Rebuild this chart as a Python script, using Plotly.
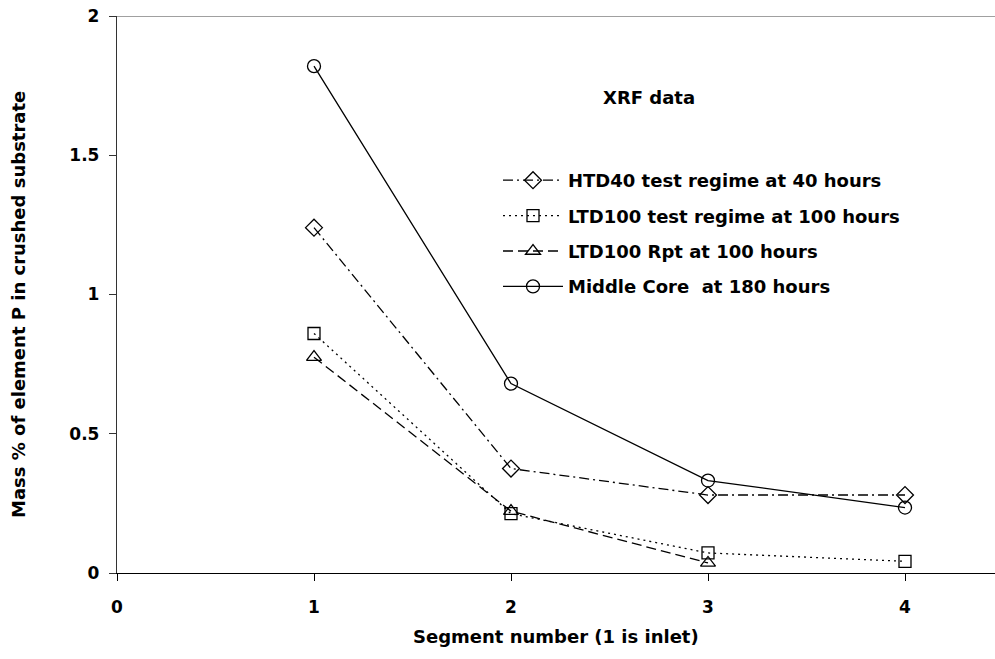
import plotly.graph_objects as go

# Segment positions along the core (1 = inlet)
segments = [1, 2, 3, 4]
segments_rpt = [1, 2, 3]

# Mass % of element P in crushed substrate (XRF)
htd40_40h = [1.24, 0.375, 0.28, 0.28]
ltd100_100h = [0.86, 0.213, 0.072, 0.042]
ltd100_rpt_100h = [0.775, 0.222, 0.036]
middle_core_180h = [1.82, 0.68, 0.332, 0.235]

series_names = [
    "HTD40 test regime at 40 hours",
    "LTD100 test regime at 100 hours",
    "LTD100 Rpt at 100 hours",
    "Middle Core  at 180 hours",
]

FONT = "DejaVu Sans, Liberation Sans, Arial, sans-serif"
TXT = 18

fig = go.Figure()

styles = [
    (segments, htd40_40h, "diamond-open", "10px,4px,2px,4px", 13),
    (segments, ltd100_100h, "square-open", "2px,4px", 12),
    (segments_rpt, ltd100_rpt_100h, "triangle-up-open", "10px,5px", 13),
    (segments, middle_core_180h, "circle-open", "solid", 13),
]

for i, (xs, ys, sym, dash, size) in enumerate(styles):
    fig.add_trace(go.Scatter(
        x=xs, y=ys, name=series_names[i], mode="lines+markers",
        legendgroup=f"g{i}",
        line=dict(color="black", width=1.3, dash=dash),
        marker=dict(symbol=sym, size=size, color="black",
                    line=dict(color="black", width=1.3)),
    ))

fig.add_shape(type="line", xref="paper", yref="y", x0=0, x1=1, y0=2, y1=2,
              line=dict(color="#808080", width=1.3))

fig.add_annotation(text="<b>XRF data</b>", xref="paper", yref="paper",
                   x=(649 - 117) / 878, y=(573 - 98) / 557,
                   xanchor="center", yanchor="middle", showarrow=False,
                   font=dict(family=FONT, size=TXT, color="black"))

fig.add_annotation(text="<b>Mass % of element P in crushed substrate</b>",
                   xref="paper", yref="paper", x=-(117 - 19) / 878,
                   y=(573 - 305) / 557, textangle=-90,
                   xanchor="center", yanchor="middle", showarrow=False,
                   font=dict(family=FONT, size=TXT, color="black"))

fig.add_annotation(text="<b>Segment number (1 is inlet)</b>",
                   xref="paper", yref="paper", x=0.5, y=-(637 - 573) / 557,
                   xanchor="center", yanchor="middle", showarrow=False,
                   font=dict(family=FONT, size=TXT, color="black"))

fig.update_layout(
    width=995, height=659,
    margin=dict(l=117, r=0, t=16, b=86),
    paper_bgcolor="white", plot_bgcolor="white",
    font=dict(family=FONT, size=TXT, color="black"),
    showlegend=True,
    legend=dict(
        x=(498 - 117) / 878, y=(573 - 162) / 557,
        xanchor="left", yanchor="top",
        bgcolor="rgba(0,0,0,0)", borderwidth=0,
        font=dict(family=FONT, size=TXT, color="black", weight="bold"),
        itemwidth=60, tracegroupgap=9, traceorder="grouped",
    ),
    xaxis=dict(
        range=[0, 878 / 197], tickvals=[0, 1, 2, 3, 4],
        showgrid=False, zeroline=False,
        showline=True, linecolor="black", linewidth=1.3,
        ticks="outside", ticklen=7, tickcolor="black", tickwidth=1,
        tickfont=dict(family=FONT, size=17, color="black", weight="bold"),
        ticklabelstandoff=11,
    ),
    yaxis=dict(
        range=[0, 2], tickvals=[0, 0.5, 1, 1.5, 2],
        ticktext=["0", "0.5", "1", "1.5", "2"],
        showgrid=False, zeroline=False,
        showline=True, linecolor="#333333", linewidth=1.3,
        ticks="outside", ticklen=7, tickcolor="#333333", tickwidth=1,
        tickfont=dict(family=FONT, size=17, color="black", weight="bold"),
        ticklabelstandoff=6,
    ),
)

fig.write_html("out.html")
